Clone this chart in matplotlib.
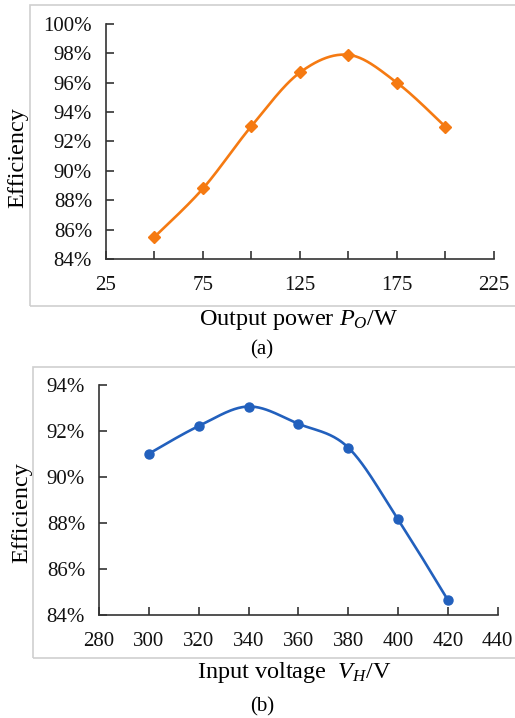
import numpy as np
import matplotlib
matplotlib.use("Agg")
import matplotlib.pyplot as plt
from matplotlib.patches import Rectangle

plt.rcParams["font.family"] = "Liberation Serif"
plt.rcParams["mathtext.fontset"] = "custom"
plt.rcParams["mathtext.rm"] = "Liberation Serif"
plt.rcParams["mathtext.it"] = "Liberation Serif:italic"

# data
power_w = [50, 75, 100, 125, 150, 175, 200]
eff_power = [85.5, 88.8, 93.05, 96.7, 97.9, 96.0, 93.0]

voltage_v = [300, 320, 340, 360, 380, 400, 420]
eff_voltage = [91.0, 92.2, 93.05, 92.3, 91.27, 88.15, 84.65]

power_ticks = [25, 50, 75, 100, 125, 150, 175, 200, 225]
power_labels = ["25", "", "75", "", "125", "", "175", "", "225"]
voltage_ticks = [280, 300, 320, 340, 360, 380, 400, 420, 440]

orange = "#f57a12"
blue = "#2260bd"
axis_col = "#333333"


def smooth(x, y, n=40):
    # excel style smoothed line: bezier segments with catmull-rom control points
    p = np.column_stack([x, y]).astype(float)
    pts = np.vstack([p[0], p, p[-1]])
    out = []
    t = np.linspace(0, 1, n)[:, None]
    for i in range(1, len(pts) - 2):
        p0, p1, p2, p3 = pts[i - 1], pts[i], pts[i + 1], pts[i + 2]
        c1 = p1 + (p2 - p0) / 6
        c2 = p2 - (p3 - p1) / 6
        seg = ((1 - t) ** 3) * p1 + 3 * ((1 - t) ** 2) * t * c1 + 3 * (1 - t) * t ** 2 * c2 + t ** 3 * p2
        out.append(seg)
    s = np.vstack(out)
    return s[:, 0], s[:, 1]


def style_axes(ax):
    for side in ["top", "right"]:
        ax.spines[side].set_visible(False)
    for side in ["left", "bottom"]:
        ax.spines[side].set_color(axis_col)
        ax.spines[side].set_linewidth(1.2)
    ax.tick_params(direction="in", length=6, width=1.2, color=axis_col,
                   labelsize=15, labelcolor="#111111")
    ax.tick_params(axis="y", pad=10)
    ax.tick_params(axis="x", pad=12)
    ax.set_facecolor("none")


fig = plt.figure(figsize=(5.15, 7.18), dpi=100)

# light grey frames around each panel
fig.patches.append(Rectangle((0.0583, 0.5738), 1.0, 0.4192, transform=fig.transFigure,
                             fill=False, edgecolor="#cfcfcf", linewidth=1.2))
fig.patches.append(Rectangle((0.0641, 0.0836), 1.0, 0.4053, transform=fig.transFigure,
                             fill=False, edgecolor="#cfcfcf", linewidth=1.2))

# (a) efficiency vs output power
ax1 = fig.add_axes([0.2058, 0.6393, 0.7534, 0.3273])
sx, sy = smooth(power_w, eff_power)
ax1.plot(sx, sy, color=orange, linewidth=1.9, solid_capstyle="round")
ax1.plot(power_w, eff_power, linestyle="none", marker="D", markersize=6, color=orange)
ax1.set_xlim(25, 225)
ax1.set_ylim(84, 100)
ax1.set_xticks(power_ticks)
ax1.set_xticklabels(power_labels)
ax1.set_yticks(np.arange(84, 101, 2))
ax1.set_yticklabels([f"{v}%" for v in range(84, 101, 2)])
style_axes(ax1)

# (b) efficiency vs input voltage
ax2 = fig.add_axes([0.1922, 0.1435, 0.7742, 0.3208])
sx, sy = smooth(voltage_v, eff_voltage)
ax2.plot(sx, sy, color=blue, linewidth=1.9, solid_capstyle="round")
ax2.plot(voltage_v, eff_voltage, linestyle="none", marker="o", markersize=6.5, color=blue)
ax2.set_xlim(280, 440)
ax2.set_ylim(84, 94)
ax2.set_xticks(voltage_ticks)
ax2.set_yticks(np.arange(84, 95, 2))
ax2.set_yticklabels([f"{v}%" for v in range(84, 95, 2)])
style_axes(ax2)

fig.text(0.035, 0.781, "Efficiency", rotation=90, ha="center", va="center", fontsize=17.5)
fig.text(0.579, 0.554, "Output power $P_O$/W", ha="center", va="center", fontsize=17.5)
fig.text(0.509, 0.5125, "(a)", ha="center", va="center", fontsize=15)

fig.text(0.043, 0.2855, "Efficiency", rotation=90, ha="center", va="center", fontsize=17.5)
fig.text(0.572, 0.0627, "Input voltage  $V_H$/V", ha="center", va="center", fontsize=17.5)
fig.text(0.509, 0.0153, "(b)", ha="center", va="center", fontsize=15)

fig.savefig("out.png", dpi=100)
